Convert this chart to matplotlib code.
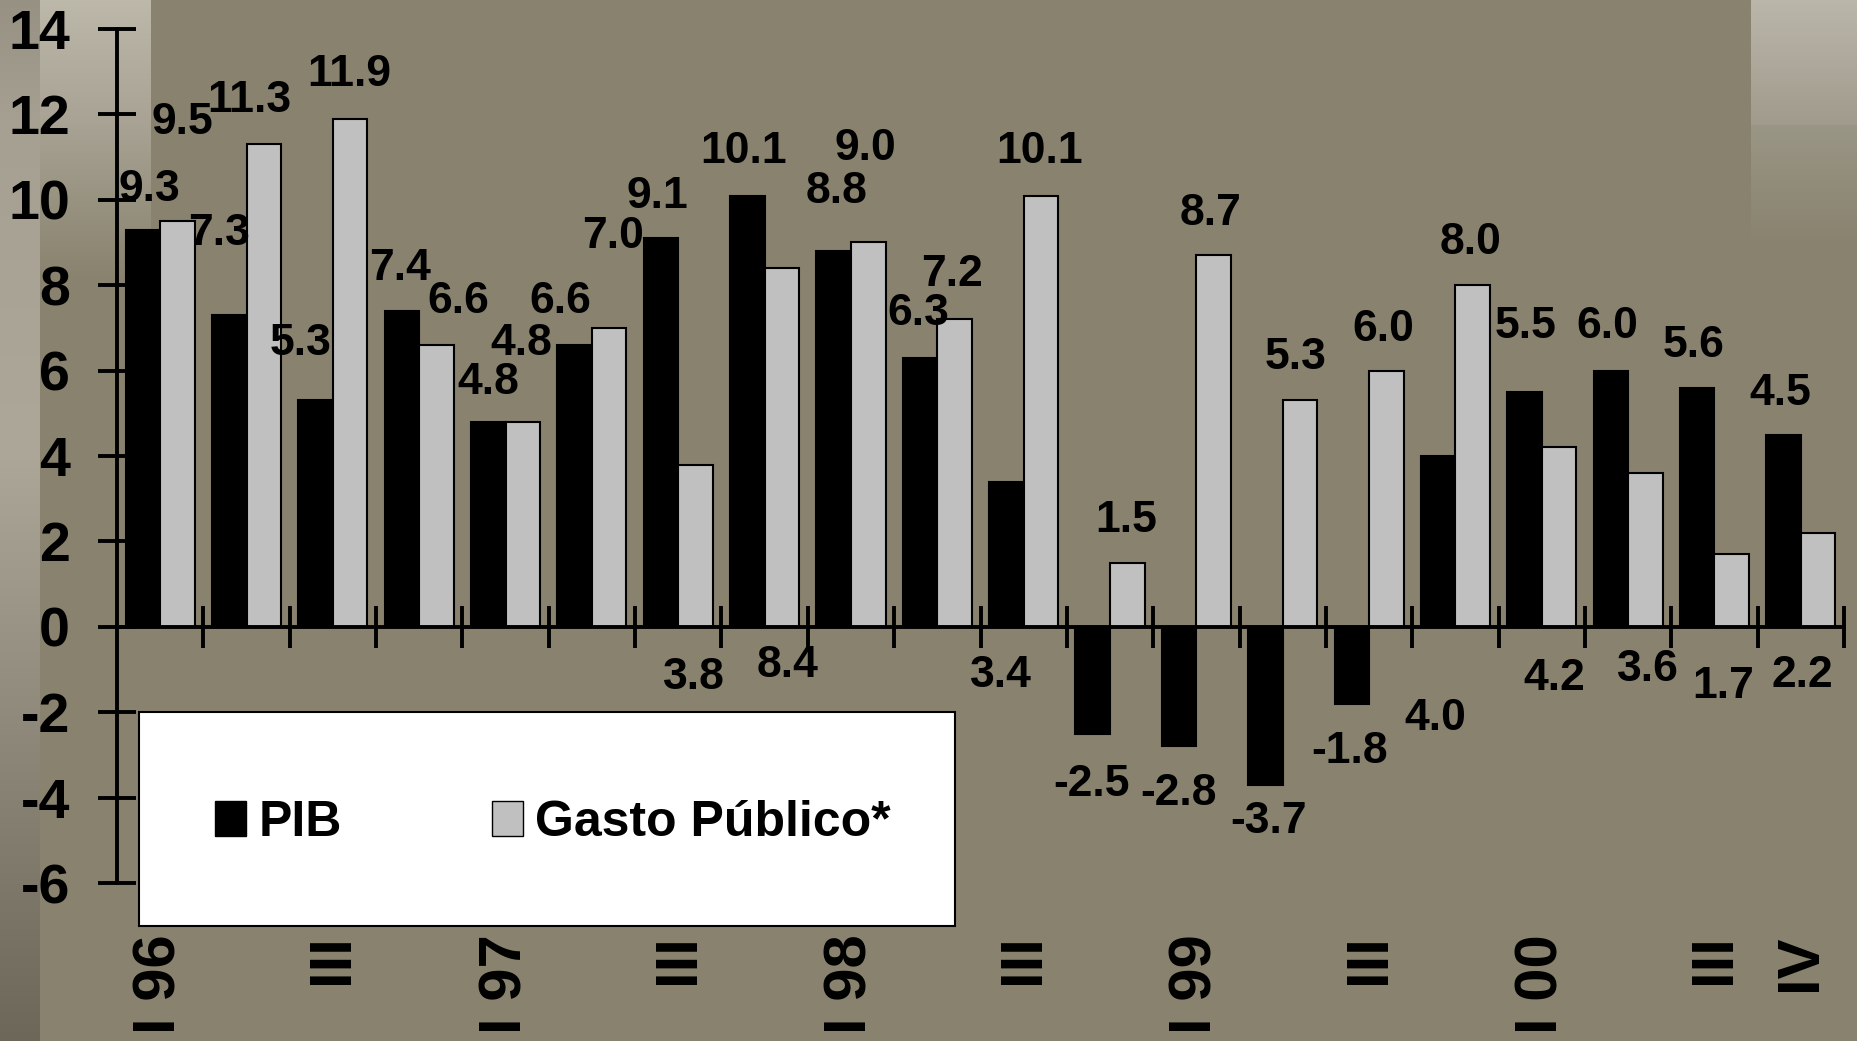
import numpy as np
import matplotlib
matplotlib.use("Agg")
import matplotlib.pyplot as plt
from matplotlib.patches import Rectangle, Patch

plt.rcParams['font.family'] = ['Liberation Sans', 'DejaVu Sans']
plt.rcParams['font.weight'] = 'bold'
plt.rcParams['axes.unicode_minus'] = False

# ---------------- data ----------------
quarters = ["I 96", "II 96", "III 96", "IV 96", "I 97", "II 97", "III 97", "IV 97",
            "I 98", "II 98", "III 98", "IV 98", "I 99", "II 99", "III 99", "IV 99",
            "I 00", "II 00", "III 00", "IV 00"]
tick_labels = ["I 96", "", "III", "", "I 97", "", "III", "", "I 98", "", "III", "",
               "I 99", "", "III", "", "I 00", "", "III", "IV"]
pib = [9.3, 7.3, 5.3, 7.4, 4.8, 6.6, 9.1, 10.1, 8.8, 6.3, 3.4, -2.5, -2.8, -3.7, -1.8,
       4.0, 5.5, 6.0, 5.6, 4.5]
gasto = [9.5, 11.3, 11.9, 6.6, 4.8, 7.0, 3.8, 8.4, 9.0, 7.2, 10.1, 1.5, 8.7, 5.3, 6.0,
         8.0, 4.2, 3.6, 1.7, 2.2]
series_names = ["PIB", "Gasto Público*"]
yticks = [-6, -4, -2, 0, 2, 4, 6, 8, 10, 12, 14]

# label placement (data coordinates of label centres, as in the original)
pib_lab_x = [-0.13, 0.68, 1.63, 2.78, 3.80, 4.63, 5.76, 6.76, 7.83, 8.78, 9.74, 10.79,
             11.79, 12.84, 13.77, 14.77, 15.81, 16.76, 17.76, 18.76]
pib_lab_y = [10.24, 9.22, 6.64, 8.39, 5.72, 7.61, 10.08, 11.13, 10.19, 7.33, -1.13, -3.70,
             -3.90, -4.56, -2.93, -2.15, 7.03, 7.03, 6.58, 5.47]
gasto_lab_x = [0.26, 1.03, 2.19, 3.45, 4.18, 5.24, 6.18, 7.27, 8.17, 9.17, 10.18, 11.19,
               12.16, 13.15, 14.17, 15.17, 16.14, 17.23, 18.10, 19.02]
gasto_lab_y = [11.82, 12.32, 12.93, 7.61, 6.64, 9.13, -1.18, -0.90, 11.19, 8.25, 11.13,
               2.48, 9.69, 6.31, 6.97, 9.00, -1.21, -1.01, -1.40, -1.13]

# ---------------- figure & background ----------------
W, H = 1857, 1041
fig = plt.figure(figsize=(W / 100, H / 100), dpi=100)

main = np.array([136, 130, 110]) / 255.0
bg = np.ones((H, W, 3)) * main
yy = np.arange(H)

def interp_col(stops_y, stops_c):
    c = np.array(stops_c) / 255.0
    return np.stack([np.interp(yy, stops_y, c[:, k]) for k in range(3)], axis=1)

left = interp_col([0, 120, 450, 650, 1041],
                  [[150, 145, 130], [165, 160, 146], [172, 167, 152], [150, 145, 130], [108, 103, 88]])
bg[:, 0:40, :] = left[:, None, :]
strip = interp_col([0, 120, 280, 1041],
                   [[188, 184, 170], [168, 163, 148], main * 255, main * 255])
bg[:, 40:151, :] = strip[:, None, :]
right = interp_col([0, 124, 125, 247, 1041],
                   [[186, 182, 170], [160, 155, 140], [154, 150, 133], main * 255, main * 255])
bg[:, 1751:, :] = right[:, None, :]

bax = fig.add_axes([0, 0, 1, 1], zorder=-10)
bax.imshow(bg, aspect='auto', extent=(0, 1, 0, 1), origin='upper')
bax.axis('off')

# ---------------- main axes ----------------
ax = fig.add_axes([117 / W, (H - 883) / H, 1727 / W, 854 / H])
ax.patch.set_alpha(0)
x = np.arange(len(quarters))
bw = 0.4
ax.bar(x - bw / 2, pib, bw, color='black', edgecolor='black', linewidth=1.5, zorder=3)
ax.bar(x + bw / 2, gasto, bw, color='#c0c0c0', edgecolor='black', linewidth=1.5, zorder=3)

ax.set_xlim(-0.5, len(quarters) - 0.5)
ax.set_ylim(-6, 14)

for s in ['top', 'right']:
    ax.spines[s].set_visible(False)
ax.spines['bottom'].set_position(('data', 0))
ax.spines['left'].set_linewidth(2.8)
ax.spines['bottom'].set_linewidth(2.8)
ax.spines['left'].set_zorder(5)
ax.spines['bottom'].set_zorder(5)

ax.set_yticks(yticks)
ax.set_yticklabels([str(v) for v in yticks])
ax.tick_params(axis='y', direction='inout', length=28, width=2.8, labelsize=40, pad=20)

ax.set_xticks([])
ax.set_xticks(np.arange(len(quarters)) + 0.5, minor=True)
ax.tick_params(axis='x', which='minor', direction='inout', length=30, width=2.8)
ax.tick_params(axis='x', which='major', length=0)

for i, lab in enumerate(tick_labels):
    if lab:
        ax.text(i, -7.2, lab, rotation=90, ha='center', va='top', fontsize=43,
                fontweight='bold', clip_on=False)

for i in range(len(quarters)):
    ax.text(pib_lab_x[i], pib_lab_y[i], f"{pib[i]:.1f}", ha='center', va='center',
            fontsize=32, fontweight='bold', zorder=6)
    ax.text(gasto_lab_x[i], gasto_lab_y[i], f"{gasto[i]:.1f}", ha='center', va='center',
            fontsize=32, fontweight='bold', zorder=6)

# legend box
ax.add_patch(Rectangle((-0.245, -7.0), 9.445, 5.01, facecolor='white', edgecolor='black',
                       linewidth=1.5, zorder=7, clip_on=False))
handles = [Patch(facecolor='black', edgecolor='black'),
           Patch(facecolor='#c0c0c0', edgecolor='black')]
leg = ax.legend(handles, series_names, loc='center', ncol=2, frameon=False,
                bbox_to_anchor=(4.55, -4.6), bbox_transform=ax.transData,
                prop={'size': 36, 'weight': 'bold'}, handlelength=0.62, handleheight=0.7,
                handletextpad=0.25, columnspacing=3.0)
leg.set_zorder(8)

fig.savefig("out.png", dpi=100)
